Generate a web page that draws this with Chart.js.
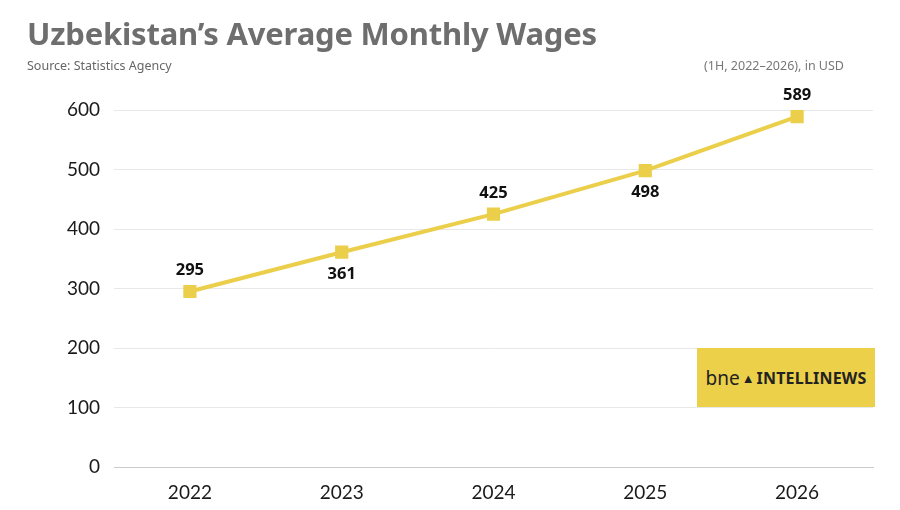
<!DOCTYPE html>
<html>
<head>
<meta charset="utf-8">
<script src="https://cdn.jsdelivr.net/npm/chart.js@4.4.1/dist/chart.umd.min.js"></script>
<style>
  body { margin: 0; background: #fff; }
  #wrap { position: relative; width: 900px; height: 510px; font-family: "Noto Sans", sans-serif; }
  #title { position: absolute; left: 27px; top: 12px; font-size: 31px; font-weight: 700; color: #6e6e6e; letter-spacing: -0.2px; }
  #source { position: absolute; left: 27px; top: 57px; font-size: 12.5px; color: #666; }
  #unit { position: absolute; right: 56px; top: 57px; font-size: 12.5px; color: #777; }
  #logo { position: absolute; left: 697px; top: 348px; width: 178px; height: 59px; background: #ecd04a;
          display: flex; align-items: center; justify-content: center; font-size: 19px; color: #222; }
  #logo b { font-size: 16px; letter-spacing: 0.2px; }
  canvas { position: absolute; left: 0; top: 0; }
</style>
</head>
<body>
<div id="wrap">
  <canvas id="chart" width="900" height="510"></canvas>
  <div id="title">Uzbekistan’s Average Monthly Wages</div>
  <div id="source">Source: Statistics Agency</div>
  <div id="unit">(1H, 2022–2026), in USD</div>
  <div id="logo">bne<span style="margin:0 2px;font-size:13px">&#9650;</span><b>INTELLINEWS</b></div>
</div>
<script>
// wages by year, USD
const years = ['2022', '2023', '2024', '2025', '2026'];
const wages = [295, 361, 425, 498, 589];
const labelSide = ['above', 'below', 'above', 'below', 'above'];
const yTicks = [0, 100, 200, 300, 400, 500, 600];

const lineYellow = '#ebcf4b';

// value labels next to each point
const valueLabels = {
    id: 'valueLabels',
    afterDatasetsDraw(chart) {
        const ctx = chart.ctx;
        const meta = chart.getDatasetMeta(0);
        ctx.save();
        ctx.font = 'bold 16.5px "Noto Sans", sans-serif';
        ctx.fillStyle = '#111';
        ctx.textAlign = 'center';
        ctx.textBaseline = 'middle';
        meta.data.forEach((pt, i) => {
            let dy = labelSide[i] === 'above' ? -21 : 22;
            ctx.fillText(wages[i], pt.x, pt.y + dy);
        });
        ctx.restore();
    }
};

new Chart(document.getElementById('chart'), {
    type: 'line',
    data: {
        labels: years,
        datasets: [{
            data: wages,
            borderColor: lineYellow,
            backgroundColor: lineYellow,
            borderWidth: 4,
            pointStyle: 'rect',
            pointRadius: 6.5,
            pointHoverRadius: 6.5,
            tension: 0
        }]
    },
    options: {
        responsive: false,
        animation: false,
        layout: { padding: { top: 110, right: 27, left: 0, bottom: 0 } },
        plugins: { legend: { display: false }, tooltip: { enabled: false } },
        scales: {
            x: {
                offset: true,
                grid: { display: false },
                border: { display: true, color: '#cccccc' },
                ticks: { color: '#1a1a1a', font: { size: 19, family: 'Lato, sans-serif' }, padding: 6 },
                afterFit(scale) { scale.height = 43; }
            },
            y: {
                min: 0,
                max: 600,
                afterBuildTicks(scale) { scale.ticks = yTicks.map(v => ({ value: v })); },
                grid: {
                    color: ctx => ctx.tick && ctx.tick.value === 0 ? '#cccccc' : '#e8e8e8',
                    drawTicks: false
                },
                border: { display: false },
                ticks: { color: '#1a1a1a', font: { size: 19, family: 'Lato, sans-serif' }, padding: 14 },
                afterFit(scale) { scale.width = 114; }
            }
        }
    },
    plugins: [valueLabels]
});
</script>
</body>
</html>
